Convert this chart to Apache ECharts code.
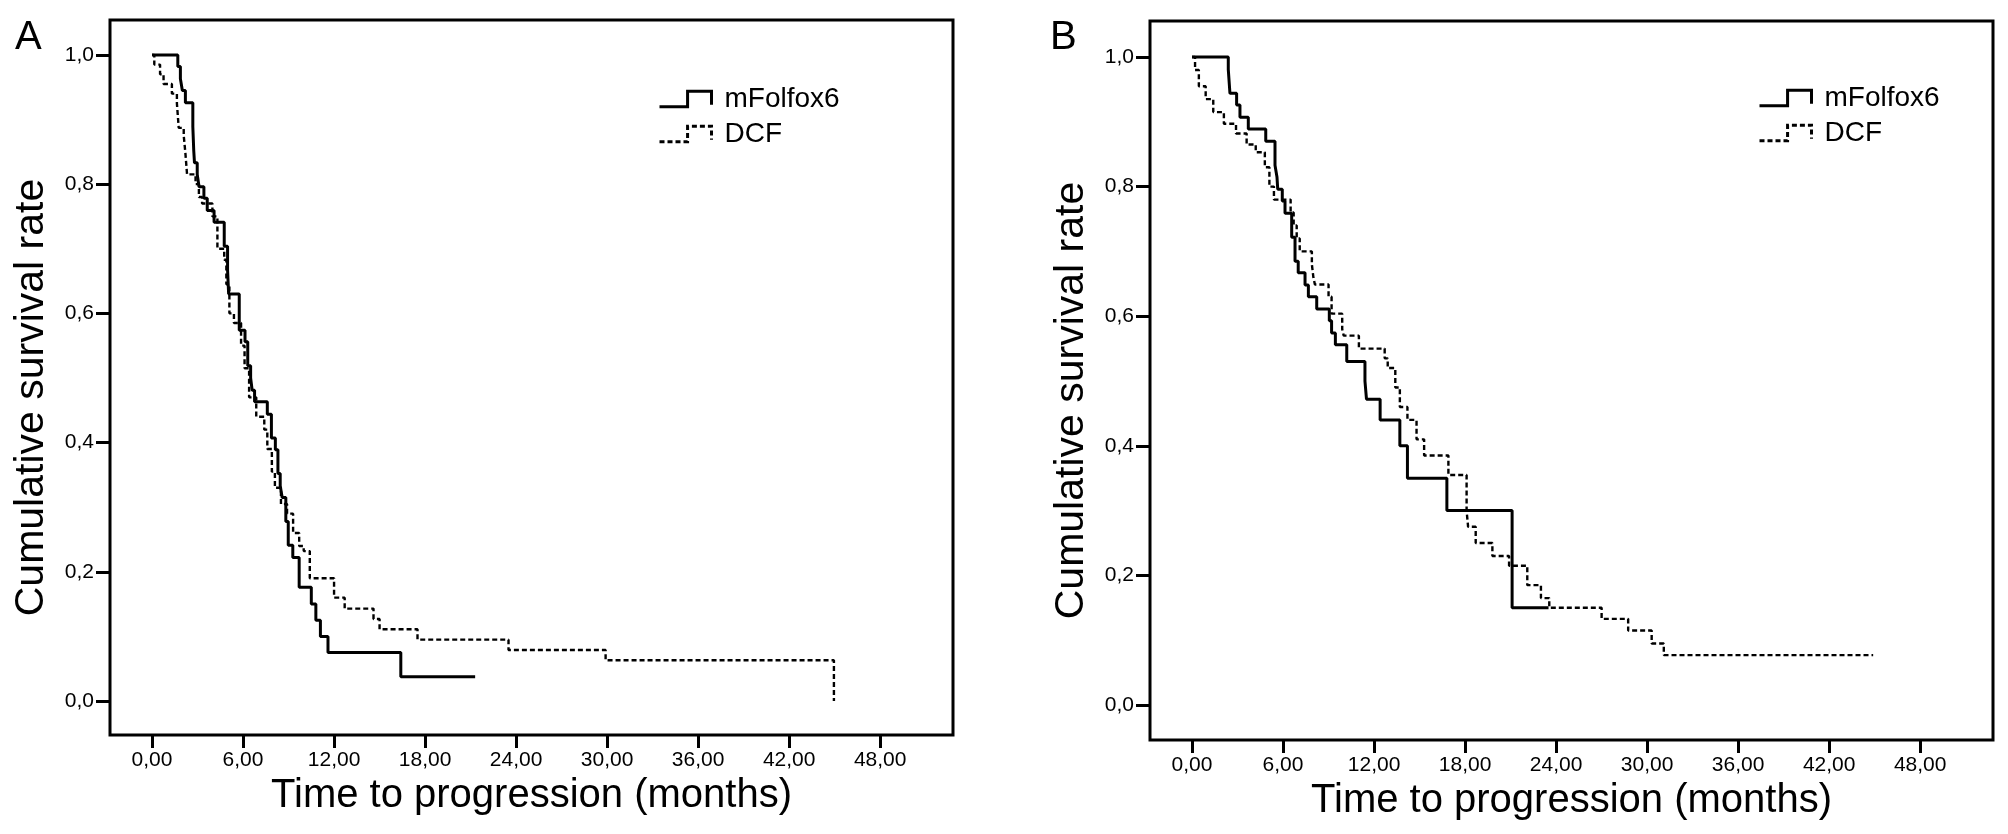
<!DOCTYPE html>
<html>
<head>
<meta charset="utf-8">
<script src="https://cdn.jsdelivr.net/npm/echarts@6/dist/echarts.min.js"></script>
<style>
html,body{margin:0;padding:0;background:#fff;}
#chart{width:2008px;height:834px;}
</style>
</head>
<body>
<div id="chart"></div>
<script>
// ---- Data (Kaplan-Meier steps: time in months, cumulative survival) ----
const xTicks = [0, 6, 12, 18, 24, 30, 36, 42, 48];
const yTicks = [0, 0.2, 0.4, 0.6, 0.8, 1.0];
const seriesNames = ['mFolfox6', 'DCF'];

// Panel A
const aMfTime = [0, 1.7, 1.87, 2.0, 2.2, 2.69, 2.75, 2.8, 2.98, 3.1, 3.42, 3.64, 4.09, 4.76, 4.98, 5.05, 5.75, 6.13, 6.31, 6.5, 6.6, 6.76, 7.6, 7.87, 8.13, 8.3, 8.45, 8.58, 8.82, 8.98, 9.28, 9.7, 10.5, 10.8, 11.1, 11.6, 16.4, 21.3];
const aMfSurv = [1.0, 0.982, 0.963, 0.945, 0.926, 0.889, 0.852, 0.833, 0.815, 0.796, 0.778, 0.759, 0.741, 0.704, 0.667, 0.630, 0.574, 0.556, 0.519, 0.500, 0.481, 0.463, 0.444, 0.407, 0.389, 0.352, 0.333, 0.315, 0.278, 0.241, 0.222, 0.176, 0.150, 0.125, 0.100, 0.075, 0.0375, 0.0375];
const aDcfTime = [0, 0.15, 0.53, 0.76, 1.31, 1.64, 1.76, 2.09, 2.2, 2.31, 2.87, 3.09, 3.3, 3.98, 4.31, 4.76, 4.9, 5.1, 5.4, 5.87, 6.1, 6.4, 6.87, 7.4, 7.6, 7.9, 8.1, 8.5, 8.9, 9.3, 9.7, 10.0, 10.4, 12.0, 12.7, 14.6, 15.0, 17.5, 23.5, 29.9, 44.95];
const aDcfSurv = [1.0, 0.985, 0.97, 0.955, 0.94, 0.925, 0.887, 0.875, 0.848, 0.815, 0.80, 0.78, 0.77, 0.75, 0.70, 0.683, 0.645, 0.60, 0.585, 0.55, 0.515, 0.47, 0.44, 0.42, 0.39, 0.355, 0.33, 0.305, 0.29, 0.26, 0.24, 0.232, 0.19, 0.16, 0.143, 0.127, 0.111, 0.095, 0.079, 0.063, 0.0];

// Panel B
const bMfTime = [0, 2.39, 2.5, 2.94, 3.16, 3.71, 4.86, 5.47, 5.6, 5.65, 5.95, 6.13, 6.57, 6.79, 7.0, 7.45, 7.67, 8.22, 9.05, 9.2, 9.45, 10.2, 11.4, 11.5, 12.4, 13.7, 14.2, 16.8, 21.1, 23.5];
const bMfSurv = [1.0, 0.981, 0.944, 0.926, 0.907, 0.889, 0.870, 0.833, 0.815, 0.796, 0.778, 0.759, 0.722, 0.685, 0.667, 0.648, 0.630, 0.611, 0.593, 0.574, 0.556, 0.530, 0.500, 0.472, 0.440, 0.400, 0.350, 0.300, 0.150, 0.150];
const bDcfTime = [0, 0.2, 0.45, 0.9, 1.4, 2.1, 2.9, 3.6, 4.2, 4.8, 5.1, 5.4, 6.5, 6.7, 6.9, 7.1, 7.9, 8.0, 8.1, 9.0, 9.2, 9.9, 10.0, 11.0, 12.7, 12.9, 13.4, 13.7, 14.2, 14.8, 15.3, 16.9, 18.1, 18.2, 18.7, 19.8, 20.9, 22.1, 23.0, 23.55, 27.0, 28.75, 30.3, 31.1, 44.9];
const bDcfSurv = [1.0, 0.98, 0.955, 0.935, 0.915, 0.897, 0.882, 0.865, 0.853, 0.83, 0.80, 0.78, 0.76, 0.74, 0.72, 0.70, 0.68, 0.66, 0.649, 0.63, 0.604, 0.58, 0.57, 0.55, 0.535, 0.52, 0.49, 0.46, 0.44, 0.41, 0.385, 0.355, 0.30, 0.275, 0.25, 0.23, 0.215, 0.185, 0.165, 0.15, 0.133, 0.115, 0.095, 0.077, 0.077];

const pairs = (t, s) => t.map((v, i) => [v, s[i]]);

const FONT = '"Liberation Sans", Arial, Helvetica, sans-serif';
const grids = [
  { left: 110, top: 20, width: 843, height: 715 },
  { left: 1150, top: 21, width: 843, height: 719 }
];
const xRanges = [[-2.77, 52.8], [-2.77, 52.8]];
const yRanges = [[-0.0526, 1.054], [-0.054, 1.0556]];

function xAxis(i) {
  return {
    type: 'value', gridIndex: i, min: xRanges[i][0], max: xRanges[i][1], position: 'bottom',
    axisLine: { show: false, onZero: false },
    splitLine: { show: false },
    axisTick: { show: true, customValues: xTicks, length: 13, lineStyle: { color: '#000', width: 3 } },
    axisLabel: { customValues: xTicks, margin: 15, fontSize: 21, color: '#000', fontFamily: FONT,
      formatter: v => v.toFixed(2).replace('.', ',') },
    name: 'Time to progression (months)', nameLocation: 'middle', nameGap: 30,
    nameTextStyle: { fontSize: 40, color: '#000', fontFamily: FONT, verticalAlign: 'top' }
  };
}
function yAxis(i) {
  return {
    type: 'value', gridIndex: i, min: yRanges[i][0], max: yRanges[i][1], position: 'left',
    axisLine: { show: false, onZero: false },
    splitLine: { show: false },
    axisTick: { show: true, customValues: yTicks, length: 14, lineStyle: { color: '#000', width: 3 } },
    axisLabel: { customValues: yTicks, margin: 16, fontSize: 21, color: '#000', fontFamily: FONT,
      formatter: v => v.toFixed(1).replace('.', ',') },
    name: 'Cumulative survival rate', nameLocation: 'middle', nameGap: 58,
    nameTextStyle: { fontSize: 41, color: '#000', fontFamily: FONT, padding: [0, 40, 0, 0] }
  };
}
const solid = { color: '#000', width: 3, type: 'solid' };
const dashed = { color: '#000', width: 2.4, type: [5, 3] };
function km(name, i, data, ls) {
  return { name: name, type: 'line', step: 'end', xAxisIndex: i, yAxisIndex: i, data: data,
    showSymbol: false, symbol: 'none', lineStyle: ls, itemStyle: { color: '#000' }, animation: false, silent: true };
}
const stepIcon = 'path://M0,15L27,15L27,0L50,0L50,13';
function legend(left, top) {
  return {
    orient: 'vertical', left: left, top: top, itemWidth: 52, itemHeight: 16, itemGap: 7,
    selectedMode: false, textStyle: { fontSize: 28, color: '#000', fontFamily: FONT, padding: [0, 0, 0, 8] },
    data: [
      { name: seriesNames[0], icon: stepIcon, itemStyle: { color: 'none', borderColor: '#000', borderWidth: 3 } },
      { name: seriesNames[1], icon: stepIcon, itemStyle: { color: 'none', borderColor: '#000', borderWidth: 3, borderType: [5, 3] } }
    ]
  };
}

const chart = echarts.init(document.getElementById('chart'), null, { renderer: 'canvas' });
chart.setOption({
  backgroundColor: '#fff',
  animation: false,
  title: [
    { text: 'A', left: 10, top: 13, textStyle: { fontSize: 40, fontWeight: 'normal', color: '#000', fontFamily: FONT } },
    { text: 'B', left: 1045, top: 13, textStyle: { fontSize: 40, fontWeight: 'normal', color: '#000', fontFamily: FONT } }
  ],
  legend: [legend(652, 80), legend(1752, 79)],
  grid: grids.map(g => Object.assign({ show: true, borderColor: '#000', borderWidth: 3, backgroundColor: 'transparent' }, g)),
  xAxis: [xAxis(0), xAxis(1)],
  yAxis: [yAxis(0), yAxis(1)],
  series: [
    km(seriesNames[0], 0, pairs(aMfTime, aMfSurv), solid),
    km(seriesNames[1], 0, pairs(aDcfTime, aDcfSurv), dashed),
    km(seriesNames[0], 1, pairs(bMfTime, bMfSurv), solid),
    km(seriesNames[1], 1, pairs(bDcfTime, bDcfSurv), dashed)
  ]
});
</script>
</body>
</html>
